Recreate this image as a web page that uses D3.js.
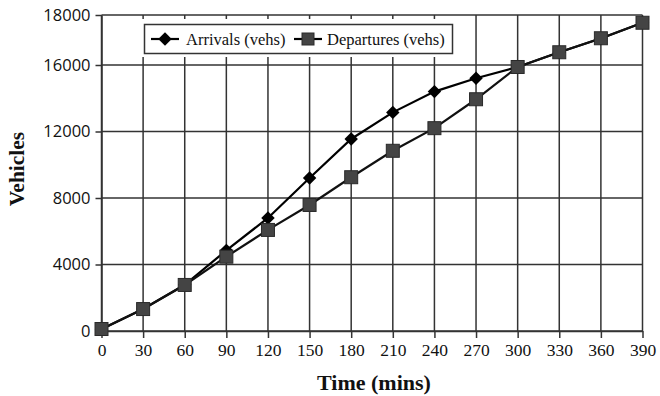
<!DOCTYPE html>
<html>
<head>
<meta charset="utf-8">
<script src="https://cdn.jsdelivr.net/npm/d3@7"></script>
<style>
  html, body { margin: 0; padding: 0; background: #fff; }
  svg { display: block; }
</style>
</head>
<body>
<script>
// Data
const times = [0, 30, 60, 90, 120, 150, 180, 210, 240, 270, 300, 330, 360, 390];
const arrivals = [100, 1320, 2780, 4850, 6800, 9200, 11550, 13150, 14400, 15200, 15880, 16510, 17060, 17690];
const departures = [120, 1320, 2770, 4470, 6080, 7580, 9250, 10840, 12200, 13940, 15880, 16510, 17070, 17690];
const yTicks = [0, 4000, 8000, 12000, 16000, 18000];
const seriesNames = ["Arrivals (vehs)", "Departures (vehs)"];

const width = 660, height = 396;
const gridColor = "#333";
const serif = "'Liberation Serif', 'Times New Roman', serif";

const svg = d3.select("body").append("svg")
    .attr("width", width)
    .attr("height", height);

svg.append("rect").attr("width", width).attr("height", height).attr("fill", "#fff");

const x = d3.scaleLinear().domain([0, 390]).range([101.5, 642.5]);
// the original axis squeezes the last step (16000 -> 18000)
const y = d3.scaleLinear().domain([0, 16000, 18000]).range([331, 65, 15]);

// Grid
const grid = svg.append("g").attr("stroke", gridColor).attr("stroke-width", 1.5);
grid.selectAll(".v")
    .data(times)
    .join("line")
    .attr("x1", d => x(d)).attr("x2", d => x(d))
    .attr("y1", y(0)).attr("y2", y(18000));
grid.selectAll(".h")
    .data(yTicks)
    .join("line")
    .attr("x1", x(0)).attr("x2", x(390))
    .attr("y1", d => y(d)).attr("y2", d => y(d));

// Axes
const xAxis = svg.append("g")
    .attr("transform", `translate(0,${y(0)})`)
    .call(d3.axisBottom(x).tickValues(times).tickSize(7).tickSizeOuter(0).tickPadding(6));
xAxis.selectAll("text")
    .attr("font-family", serif)
    .attr("font-size", 17.5)
    .attr("fill", "#111");

const yAxis = svg.append("g")
    .attr("transform", `translate(${x(0)},0)`)
    .call(d3.axisLeft(y).tickValues(yTicks).tickFormat(d3.format("d")).tickSize(6).tickSizeOuter(0).tickPadding(5));
yAxis.selectAll("text")
    .attr("font-family", "'Open Sans', sans-serif")
    .attr("font-size", 16.5)
    .attr("fill", "#111");

[xAxis, yAxis].forEach(a => {
    a.select(".domain").attr("stroke", gridColor).attr("stroke-width", 1.5);
    a.selectAll(".tick line").attr("stroke", gridColor).attr("stroke-width", 1.5);
});

// Axis titles
svg.append("text")
    .attr("x", (x(0) + x(390)) / 2 + 2)
    .attr("y", 390)
    .attr("text-anchor", "middle")
    .attr("font-family", serif)
    .attr("font-weight", "bold")
    .attr("font-size", 22)
    .attr("fill", "#111")
    .text("Time (mins)");

svg.append("text")
    .attr("transform", "translate(24,169) rotate(-90)")
    .attr("text-anchor", "middle")
    .attr("font-family", serif)
    .attr("font-weight", "bold")
    .attr("font-size", 21.5)
    .attr("fill", "#111")
    .text("Vehicles");

// Lines
const line = d3.line()
    .x((d, i) => x(times[i]))
    .y(d => y(d));

svg.append("path")
    .datum(arrivals)
    .attr("fill", "none")
    .attr("stroke", "#000")
    .attr("stroke-width", 2.2)
    .attr("d", line);

const diamond = d3.symbol().type(d3.symbolDiamond2).size(115);
svg.append("g")
    .selectAll("path")
    .data(arrivals)
    .join("path")
    .attr("transform", (d, i) => `translate(${x(times[i])},${y(d)})`)
    .attr("d", diamond)
    .attr("fill", "#000");

svg.append("path")
    .datum(departures)
    .attr("fill", "none")
    .attr("stroke", "#111")
    .attr("stroke-width", 2.2)
    .attr("d", line);

svg.append("g")
    .selectAll("rect")
    .data(departures)
    .join("rect")
    .attr("x", (d, i) => x(times[i]) - 6.5)
    .attr("y", d => y(d) - 6.5)
    .attr("width", 13)
    .attr("height", 13)
    .attr("fill", "#444")
    .attr("stroke", "#2a2a2a")
    .attr("stroke-width", 1);

// Legend
const legend = svg.append("g");
legend.append("rect")
    .attr("x", 141).attr("y", 19).attr("width", 315).attr("height", 38)
    .attr("fill", "#fff");
legend.append("rect")
    .attr("x", 144.5).attr("y", 24.5).attr("width", 308).attr("height", 29)
    .attr("fill", "#fff")
    .attr("stroke", gridColor)
    .attr("stroke-width", 1.5);

const legendItems = [
    { name: seriesNames[0], x0: 151, x1: 179, tx: 186 },
    { name: seriesNames[1], x0: 294, x1: 322, tx: 327 }
];
legendItems.forEach((it, i) => {
    legend.append("line")
        .attr("x1", it.x0).attr("x2", it.x1)
        .attr("y1", 39).attr("y2", 39)
        .attr("stroke", "#000").attr("stroke-width", 2.2);
    const cx = (it.x0 + it.x1) / 2;
    if (i === 0) {
        legend.append("path")
            .attr("transform", `translate(${cx},39)`)
            .attr("d", diamond)
            .attr("fill", "#000");
    } else {
        legend.append("rect")
            .attr("x", cx - 6).attr("y", 33).attr("width", 12).attr("height", 12)
            .attr("fill", "#444").attr("stroke", "#2a2a2a");
    }
    legend.append("text")
        .attr("x", it.tx).attr("y", 45)
        .attr("font-family", serif)
        .attr("font-size", 16.5)
        .attr("fill", "#111")
        .text(it.name);
});
</script>
</body>
</html>
